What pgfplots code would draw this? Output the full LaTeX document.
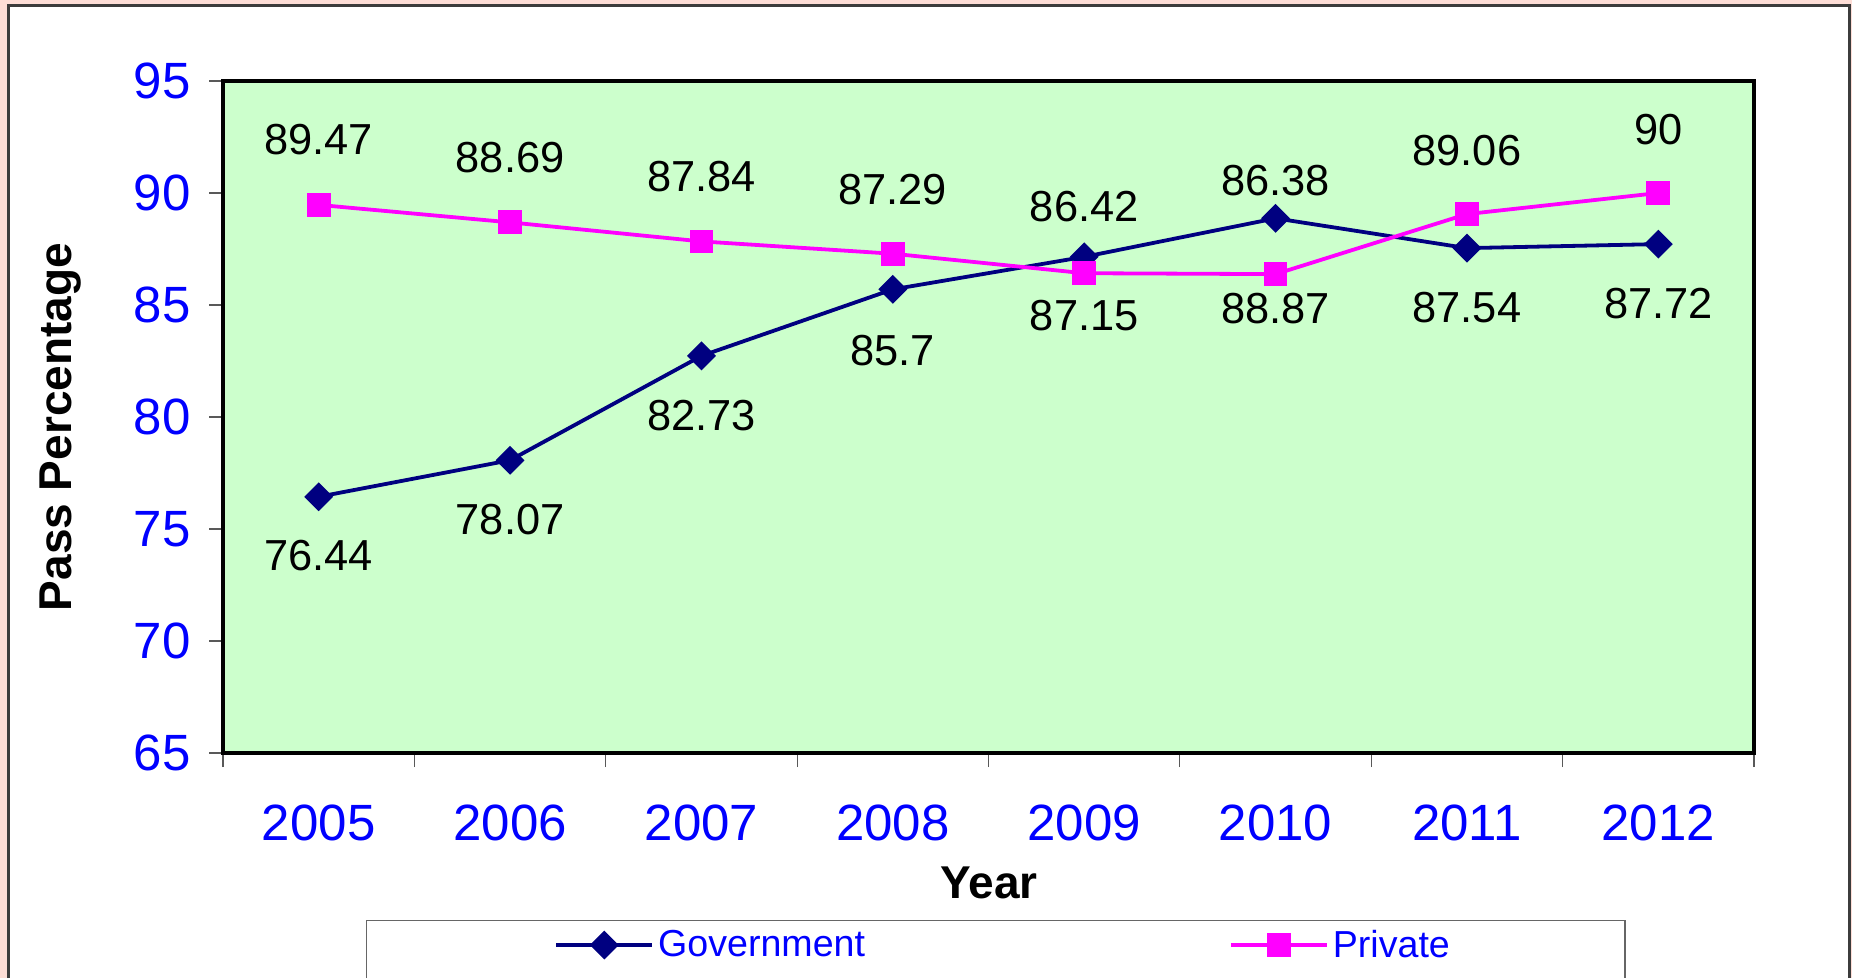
\documentclass[border=0pt]{standalone}
\usepackage{pgfplots}
\pgfplotsset{compat=1.18}
\usepackage{fontspec}
\setmainfont{Liberation Sans}
\definecolor{pinkbg}{RGB}{253,221,214}
\definecolor{plotgreen}{RGB}{204,255,204}
\definecolor{govblue}{RGB}{0,0,128}
\definecolor{privmag}{RGB}{255,0,255}
\definecolor{framegray}{RGB}{60,60,60}

\pgfplotstableread{
x y lab dy
0 76.44 76.44 -29.5
1 78.07 78.07 -29.5
2 82.73 82.73 -30
3 85.7 85.7 -30.5
4 87.15 87.15 -29.5
5 88.87 88.87 -44.9
6 87.54 87.54 -29.5
7 87.72 87.72 -29.5
}\govdata

\pgfplotstableread{
x y lab dy
0 89.47 89.47 32.5
1 88.69 88.69 32.5
2 87.84 87.84 32.5
3 87.29 87.29 32
4 86.42 86.42 33.5
5 86.38 86.38 46.7
6 89.06 89.06 32
7 90 90 31.5
}\privdata

\begin{document}
\begin{tikzpicture}
\begin{scope}[x=0.5bp,y=-0.5bp]
\useasboundingbox (0,0) rectangle (1852,978);
\fill[pinkbg] (0,0) rectangle (1852,978);
\fill[white] (9,6) rectangle (1849,978);
\draw[framegray, line width=1.1bp] (8.5,978) -- (8.5,5.5) -- (1849.5,5.5) -- (1849.5,978);
\draw[gray!80!black, line width=0.7bp] (366.5,978) -- (366.5,920.5) -- (1625,920.5) -- (1625,978);
\end{scope}
\begin{axis}[
  at={(111.5bp,-376.5bp)}, anchor=south west,
  scale only axis, width=765.5bp, height=336bp,
  xmin=-0.5, xmax=7.5, ymin=65, ymax=95,
  axis background/.style={fill=plotgreen},
  axis line style={black, line width=1.7bp},
  xtick={-0.5,0.5,...,7.5}, x tick label as interval,
  xticklabels={2005,2006,2007,2008,2009,2010,2011,2012},
  ytick={65,70,...,95},
  xtick pos=bottom, ytick pos=left,
  tick align=outside, major tick length=7bp,
  tick style={gray!70!black, line width=0.6bp},
  ticklabel style={font=\fontsize{25.5bp}{30bp}\selectfont, text=blue},
  /pgf/number format/assume math mode=true,
  yticklabel style={anchor=east, inner sep=0pt, xshift=-9bp},
  xticklabel style={anchor=north, inner sep=0pt, yshift=-18.8bp},
  xlabel={Year}, ylabel={Pass Percentage},
  label style={font=\fontsize{23bp}{27bp}\selectfont\bfseries},
  xlabel style={at={(rel axis cs:0.5003,-0.1935)}, anchor=center},
  ylabel style={at={(rel axis cs:-0.1058,0.485)}, anchor=center},
  legend columns=2,
  legend style={at={(rel axis cs:0.2162,-0.2857)}, anchor=west, draw=none, fill=none,
    inner sep=0pt, font=\fontsize{18.8bp}{22bp}\selectfont, text=blue,
    /tikz/every even column/.append style={column sep=180bp}},
  legend cell align=left,
  legend image code/.code={\draw[mark repeat=2,mark phase=2,#1] plot coordinates {(0bp,0bp) (24bp,0bp) (48bp,0bp)};},
  clip=false,
]
\addplot[color=govblue, line width=1.9bp, mark=square*, mark size=4.15bp,
  mark options={solid, rotate=45},
  nodes near coords, point meta=explicit symbolic,
  visualization depends on={\thisrow{dy} \as \labdy},
  every node near coord/.append style={anchor=center, yshift=\labdy bp, text=black, font=\fontsize{21.7bp}{25bp}\selectfont}]
  table[x=x, y=y, meta=lab] {\govdata};
\addlegendentry{Government}
\addplot[color=privmag, line width=1.9bp, mark=square*, mark size=5bp,
  mark options={solid},
  nodes near coords, point meta=explicit symbolic,
  visualization depends on={\thisrow{dy} \as \labdy},
  every node near coord/.append style={anchor=center, yshift=\labdy bp, text=black, font=\fontsize{21.7bp}{25bp}\selectfont}]
  table[x=x, y=y, meta=lab] {\privdata};
\addlegendentry{Private}
\end{axis}
\end{tikzpicture}
\end{document}
